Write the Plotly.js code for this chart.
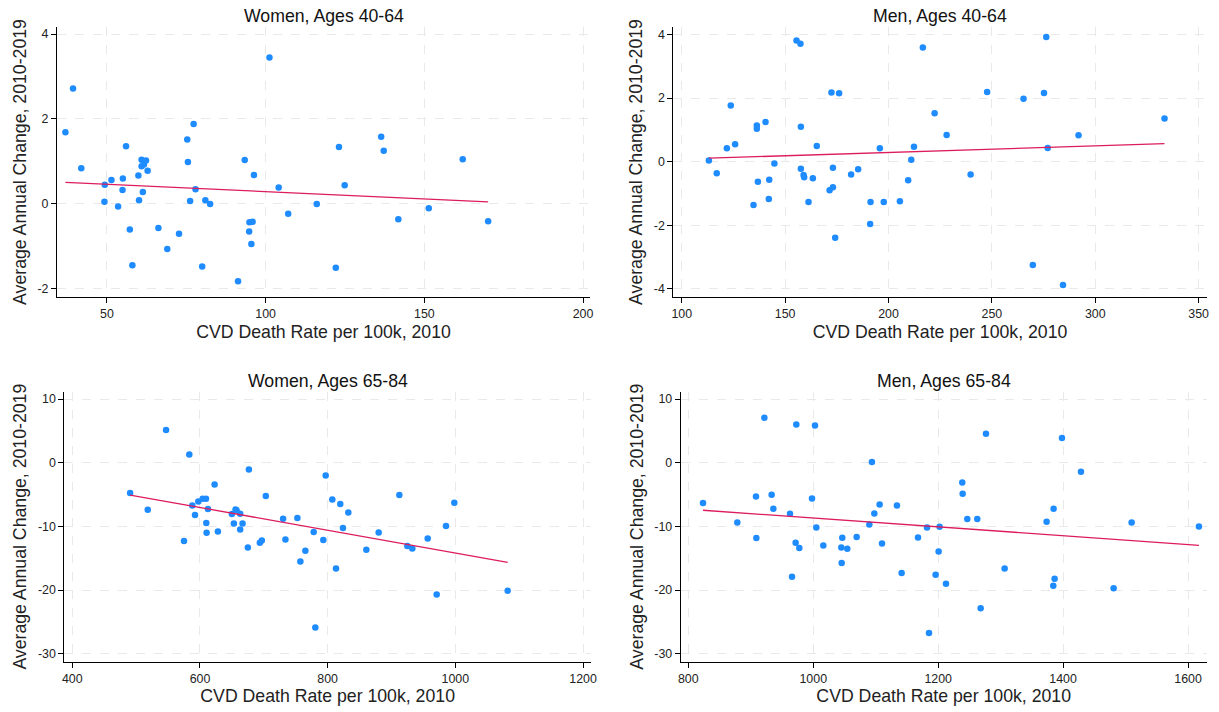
<!DOCTYPE html>
<html>
<head>
<meta charset="utf-8">
<script src="https://cdn.plot.ly/plotly-3.0.1.min.js"></script>
<style>html,body{margin:0;padding:0;background:#fff;}#chart{width:1219px;height:712px;}</style>
</head>
<body>
<div id="chart"></div>
<script>
// ---- Data ----
const panelTitles = ["Women, Ages 40-64", "Men, Ages 40-64", "Women, Ages 65-84", "Men, Ages 65-84"];
const xTitle = "CVD Death Rate per 100k, 2010";
const yTitle = "Average Annual Change, 2010-2019";

const w40_x = [36.9,39.3,41.9,49.3,49.2,51.4,53.5,55.0,54.9,56.0,57.2,58.0,59.9,60.1,60.9,60.9,61.65,62.3,61.3,62.8,66.2,69.0,72.7,75.3,75.5,77.3,76.2,77.9,80.0,81.0,82.5,91.3,93.4,94.9,95.9,94.8,95.5,96.3,101.2,104.1,107.1,116.1,123.1,122.1,124.9,136.4,137.2,141.8,151.4,162.1,170.1];
const w40_y = [1.69,2.72,0.84,0.45,0.05,0.565,-0.06,0.60,0.33,1.36,-0.60,-1.44,0.67,0.09,1.04,0.89,0.93,1.02,0.28,0.78,-0.565,-1.06,-0.70,1.52,0.99,1.88,0.07,0.345,-1.47,0.086,0.0,-1.82,1.035,-0.43,-0.42,-0.65,-0.94,0.68,3.45,0.385,-0.23,0.0,1.34,-1.50,0.44,1.58,1.25,-0.36,-0.10,1.05,-0.41];

const m40_x = [113.1,116.9,123.7,121.8,125.8,134.7,136.3,136.3,136.8,140.5,142.3,142.1,144.8,155.5,157.4,157.6,157.6,158.9,159.2,161.3,163.4,165.3,171.5,173.1,173.1,172.4,176.1,174.2,181.9,185.3,191.1,191.3,195.8,197.7,205.5,209.5,211.0,212.3,216.6,222.3,228.1,239.7,247.7,265.3,269.8,275.2,276.3,277.0,284.4,291.9,333.5];
const m40_y = [0.04,-0.36,1.77,0.42,0.545,-1.36,1.14,1.04,-0.63,1.25,-0.565,-1.17,-0.06,3.81,3.71,1.10,-0.22,-0.42,-0.49,-1.27,-0.52,0.49,-0.90,-0.80,-0.19,2.18,2.15,-2.39,-0.40,-0.24,-1.96,-1.27,0.42,-1.27,-1.24,-0.58,0.06,0.47,3.59,1.52,0.84,-0.40,2.19,1.98,-3.25,2.16,3.92,0.43,-3.88,0.83,1.36];

const w65_x = [490.6,518.2,546.9,575.0,583.3,588.0,592.2,597.4,604.2,609.4,609.9,610.4,612.5,622.9,628.1,650.0,653.1,655.7,657.3,663.0,663.0,666.7,675.0,676.6,693.8,696.9,703.1,730.2,733.9,752.6,757.3,765.1,778.1,780.7,793.2,796.9,807.3,813.1,819.8,824.0,832.4,860.6,879.9,912.3,924.8,932.6,956.7,970.8,985.4,998.4,1082.0];
const w65_y = [-4.76,-7.38,5.13,-12.30,1.31,-6.70,-8.22,-6.07,-5.65,-5.65,-9.48,-10.99,-7.28,-3.40,-10.79,-8.06,-9.53,-7.33,-7.45,-8.01,-10.47,-9.53,-13.30,-1.05,-12.57,-12.20,-5.24,-8.80,-12.04,-8.69,-15.50,-13.82,-10.89,-25.86,-12.15,-1.99,-5.76,-16.60,-6.49,-10.26,-7.80,-13.66,-10.94,-5.08,-13.09,-13.46,-11.88,-20.68,-9.95,-6.28,-20.10];

const m65_x = [823.5,878.4,908.3,908.9,921.7,933.4,936.1,962.8,966.0,971.8,972.9,977.7,998.0,1002.8,1004.9,1016.1,1044.9,1046.5,1045.5,1054.5,1069.5,1089.8,1094.0,1097.8,1106.3,1110.1,1134.0,1141.5,1167.7,1182.1,1185.3,1195.9,1200.7,1202.3,1212.5,1238.6,1239.2,1246.6,1262.6,1268.0,1276.5,1306.4,1373.6,1384.8,1386.4,1384.3,1398.2,1428.6,1480.9,1509.7,1617.5];
const m65_y = [-6.34,-9.37,-5.29,-11.83,7.07,-5.03,-7.23,-8.01,-17.91,-12.57,6.02,-13.40,-5.60,5.86,-10.16,-12.98,-13.30,-11.78,-15.76,-13.51,-11.68,-9.69,0.10,-7.96,-6.54,-12.67,-6.70,-17.33,-11.73,-10.16,-26.75,-17.59,-13.93,-10.05,-19.01,-3.09,-4.87,-8.85,-8.85,-22.83,4.55,-16.60,-9.27,-7.23,-18.22,-19.32,3.87,-1.41,-19.69,-9.37,-10.00];

// tick labels
const yTicks40 = [-4,-2,0,2,4];
const yTickText40 = ["-4","-2","0","2","4"];
const yTicks65 = [-30,-20,-10,0,10];
const yTickText65 = ["-30","-20","-10","0","10"];

// ---- Styling / layout ----
const FONT = "Liberation Sans, Arial, Helvetica, sans-serif";
const dotColor = "#1e8cff";
const fitColor = "#dc1c5c";

function ols(xs, ys) {
  const n = xs.length;
  let mx = 0, my = 0;
  for (let i = 0; i < n; i++) { mx += xs[i]; my += ys[i]; }
  mx /= n; my /= n;
  let sxy = 0, sxx = 0;
  for (let i = 0; i < n; i++) { sxy += (xs[i]-mx)*(ys[i]-my); sxx += (xs[i]-mx)*(xs[i]-mx); }
  const b = sxy / sxx, a = my - b*mx;
  const x0 = Math.min(...xs), x1 = Math.max(...xs);
  return {x: [x0, x1], y: [a + b*x0, a + b*x1]};
}

const series = [[w40_x,w40_y],[m40_x,m40_y],[w65_x,w65_y],[m65_x,m65_y]];
const traces = [];
series.forEach((s, i) => {
  const ax = i === 0 ? "" : String(i+1);
  traces.push({x: s[0], y: s[1], type: "scatter", mode: "markers", xaxis: "x"+ax, yaxis: "y"+ax,
    marker: {color: dotColor, size: 6.5, line: {width: 0}}, hoverinfo: "x+y", showlegend: false});
  const f = ols(s[0], s[1]);
  traces.push({x: f.x, y: f.y, type: "scatter", mode: "lines", xaxis: "x"+ax, yaxis: "y"+ax,
    line: {color: fitColor, width: 1.3}, hoverinfo: "skip", showlegend: false});
});

const W = 1219, H = 712;
// pixel boxes [left, right, top, bottom]
const boxes = [[57,590,27,297],[673.3,1206.7,27,297],[64.3,591,391.7,661.7],[680.7,1206.7,391.7,661.7]];
const xRanges = [[34.25,202.2],[95.9,353.9],[387.5,1212.5],[787.8,1629.9]];
const yRanges = [[-2.19,4.165],[-4.255,4.236],[-31.24,11.15],[-31.24,11.15]];
const xDticks = [50,50,200,200];
const xTick0 = [50,100,400,800];

function xaxis(i) {
  const b = boxes[i];
  return {domain: [b[0]/W, b[1]/W], range: xRanges[i], anchor: "y"+(i===0?"":i+1),
    tickmode: "linear", tick0: xTick0[i], dtick: xDticks[i],
    showline: true, linecolor: "#000", linewidth: 1, mirror: false,
    ticks: "outside", ticklen: 5, tickwidth: 1, tickcolor: "#000",
    tickfont: {family: FONT, size: 12.4, color: "#222"},
    showgrid: true, gridcolor: "#e9e9e9", griddash: "dash", gridwidth: 1, zeroline: false,
    title: {text: xTitle, font: {family: FONT, size: 17.7, color: "#222"}, standoff: 5},
    automargin: false, fixedrange: true};
}
function yaxis(i) {
  const b = boxes[i];
  const is40 = i < 2;
  return {domain: [1 - b[3]/H, 1 - b[2]/H], range: yRanges[i], anchor: "x"+(i===0?"":i+1),
    tickmode: "array", tickvals: is40 ? yTicks40 : yTicks65, ticktext: is40 ? yTickText40 : yTickText65,
    showline: true, linecolor: "#000", linewidth: 1, mirror: false,
    ticks: "outside", ticklen: 5, tickwidth: 1, tickcolor: "#000",
    tickfont: {family: FONT, size: 12.4, color: "#222"},
    showgrid: true, gridcolor: "#e9e9e9", griddash: "dash", gridwidth: 1, zeroline: false,
    title: {text: yTitle, font: {family: FONT, size: 17.7, color: "#222"}, standoff: 6},
    automargin: false, fixedrange: true};
}

const layout = {
  width: W, height: H,
  margin: {l: 0, r: 0, t: 0, b: 0},
  paper_bgcolor: "#fff", plot_bgcolor: "#fff",
  showlegend: false,
  annotations: boxes.map((b, i) => ({
    text: panelTitles[i], xref: "paper", yref: "paper",
    x: (b[0]+b[1])/2/W, y: 1 - (b[2]-11)/H, xanchor: "center", yanchor: "middle",
    showarrow: false, font: {family: FONT, size: 17.7, color: "#111"}
  }))
};
["", "2", "3", "4"].forEach((s, i) => {
  layout["xaxis"+s] = xaxis(i);
  layout["yaxis"+s] = yaxis(i);
});

Plotly.newPlot("chart", traces, layout, {displayModeBar: false, staticPlot: true});
</script>
</body>
</html>
